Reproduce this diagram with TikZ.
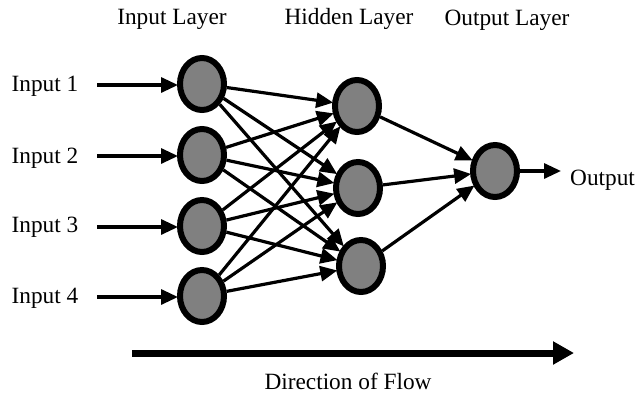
\documentclass[tikz,border=0pt]{standalone}
\usepackage{fontspec}
\setmainfont{Liberation Serif}
\usetikzlibrary{shapes.geometric,arrows.meta}
\begin{document}
\begin{tikzpicture}[x=1pt,y=-1pt,
  neuron/.style={ellipse,draw=black,fill=black!50,line width=6pt,minimum width=44pt,minimum height=52pt,inner sep=0pt},
  lbl/.style={font=\fontsize{23.3}{28}\selectfont,inner sep=0pt},
  conn/.style={line width=3.2pt,-{Triangle[length=17pt,width=15pt]},shorten >=-1pt},
  flow/.style={line width=7pt,-{Triangle[length=21pt,width=22pt]}}]
\useasboundingbox (0,0) rectangle (638,394);
% headers
\node[lbl] (hin) at (172,19) {Input Layer};
\node[lbl] (hhid) at (349,19) {Hidden Layer};
\node[lbl] (hout) at (507,20) {Output Layer};
% input nodes
\node[neuron] (i1) at (202,84) {};
\node[neuron] (i2) at (202,155) {};
\node[neuron] (i3) at (202,226) {};
\node[neuron] (i4) at (202,296) {};
% hidden nodes
\node[neuron] (h1) at (357,106) {};
\node[neuron] (h2) at (358,188) {};
\node[neuron] (h3) at (361,266) {};
% output node
\node[neuron] (o) at (495,171) {};
% input labels
\node[lbl] (t1) at (45,86) {Input 1};
\node[lbl] (t2) at (45,158) {Input 2};
\node[lbl] (t3) at (45,227) {Input 3};
\node[lbl] (t4) at (45,298) {Input 4};
\coordinate (s1) at (97,85);
\coordinate (s2) at (97,156);
\coordinate (s3) at (97,227);
\coordinate (s4) at (97,297);
\foreach \k in {1,2,3,4}{
  \draw[conn] (s\k) -- (i\k.west |- s\k);
}
\foreach \a in {1,2,3,4}{
  \foreach \b in {1,2,3}{
    \draw[conn] (i\a) -- (h\b);
  }
}
\foreach \b in {1,2,3}{
  \draw[conn] (h\b) -- (o);
}
\node[lbl,anchor=west] (out) at (570,180) {Output};
\coordinate (oe) at (560,171);
\draw[conn] (o) -- (oe);
% direction
\coordinate (d1) at (132,353);
\coordinate (d2) at (574,353);
\draw[flow] (d1) -- (d2);
\node[lbl] (dir) at (348,381) {Direction of Flow};
\end{tikzpicture}
\end{document}
